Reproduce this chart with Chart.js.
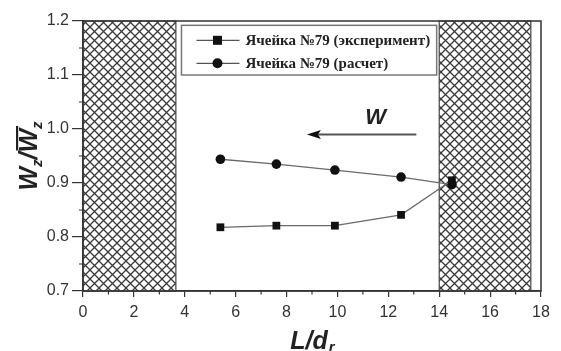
<!DOCTYPE html>
<html>
<head>
<meta charset="utf-8">
<script src="https://cdn.jsdelivr.net/npm/chart.js@4"></script>
<style>
  html, body { margin: 0; padding: 0; background: #fff; }
  #wrap { width: 561px; height: 351px; }
</style>
</head>
<body>
<div id="wrap"><canvas id="graf" width="561" height="351"></canvas></div>
<script>
// values
const lOverD = [5.4, 7.6, 9.9, 12.5, 14.5];
const experiment = [0.818, 0.821, 0.821, 0.841, 0.905];
const calculation = [0.944, 0.935, 0.924, 0.911, 0.897];
const seriesLabels = ["Ячейка №79 (эксперимент)", "Ячейка №79 (расчет)"];
const hatchZones = [[0, 3.65], [14, 17.6]];
const xTicks = [0, 2, 4, 6, 8, 10, 12, 14, 16, 18];
const yTicks = [0.7, 0.8, 0.9, 1.0, 1.1, 1.2];

const axisColor = "#333";
const sansFont = "'Liberation Sans', Arial, sans-serif";
const serifFont = "'Liberation Serif', 'Times New Roman', serif";

function makeHatch(ctx) {
  const p = 9;
  const c = document.createElement("canvas");
  c.width = p; c.height = p;
  const g = c.getContext("2d");
  g.fillStyle = "#fff";
  g.fillRect(0, 0, p, p);
  g.strokeStyle = "#3a3a3a";
  g.lineWidth = 1.3;
  g.beginPath();
  g.moveTo(-1, -1); g.lineTo(p + 1, p + 1);
  g.moveTo(-1, p + 1); g.lineTo(p + 1, -1);
  g.stroke();
  return ctx.createPattern(c, "repeat");
}

const decorations = {
  id: "decorations",
  beforeDatasetsDraw(chart) {
    const { ctx, chartArea: a, scales: { x, y } } = chart;
    ctx.save();
    const pat = makeHatch(ctx);
    hatchZones.forEach(([from, to]) => {
      const x0 = x.getPixelForValue(from), x1 = x.getPixelForValue(to);
      ctx.fillStyle = pat;
      ctx.fillRect(x0, a.top, x1 - x0, a.bottom - a.top);
      ctx.strokeStyle = "#444";
      ctx.lineWidth = 1.2;
      ctx.strokeRect(x0, a.top, x1 - x0, a.bottom - a.top);
    });
    ctx.restore();
  },
  afterDatasetsDraw(chart) {
    const { ctx, chartArea: a, scales: { x, y } } = chart;
    ctx.save();
    // frame
    ctx.strokeStyle = axisColor;
    ctx.lineWidth = 1.5;
    ctx.strokeRect(a.left, a.top, a.right - a.left, a.bottom - a.top);
    // minor ticks
    ctx.lineWidth = 1.2;
    ctx.beginPath();
    for (let v = 1; v < 18; v += 2) {
      const px = x.getPixelForValue(v);
      ctx.moveTo(px, a.bottom); ctx.lineTo(px, a.bottom + 3.5);
    }
    for (let v = 0.75; v < 1.2; v += 0.1) {
      const py = y.getPixelForValue(v);
      ctx.moveTo(a.left, py); ctx.lineTo(a.left - 4, py);
    }
    ctx.stroke();

    // legend box
    const lx = x.getPixelForValue(3.87), rx = x.getPixelForValue(13.9);
    const ty = y.getPixelForValue(1.192), by = y.getPixelForValue(1.1);
    ctx.fillStyle = "#fff";
    ctx.fillRect(lx, ty, rx - lx, by - ty);
    ctx.strokeStyle = "#777";
    ctx.lineWidth = 1.5;
    ctx.strokeRect(lx, ty, rx - lx, by - ty);
    chart.data.datasets.forEach((ds, i) => {
      const cy = ty + 15 + i * 23;
      const mx = lx + 36;
      ctx.strokeStyle = "#555";
      ctx.lineWidth = 1.3;
      ctx.beginPath();
      ctx.moveTo(lx + 15, cy); ctx.lineTo(lx + 58, cy);
      ctx.stroke();
      ctx.fillStyle = "#111";
      if (ds.pointStyle === "rect") {
        ctx.fillRect(mx - 4.5, cy - 4.5, 9, 9);
      } else {
        ctx.beginPath(); ctx.arc(mx, cy, 5, 0, Math.PI * 2); ctx.fill();
      }
      ctx.fillStyle = "#222";
      ctx.font = "bold 15px " + serifFont;
      ctx.textBaseline = "middle";
      ctx.textAlign = "left";
      ctx.fillText(ds.label, lx + 64, cy + 1);
    });

    // flow arrow
    const ax0 = x.getPixelForValue(13.1), ax1 = x.getPixelForValue(8.8);
    const ay = y.getPixelForValue(0.99);
    ctx.strokeStyle = "#555";
    ctx.lineWidth = 2;
    ctx.beginPath();
    ctx.moveTo(ax0, ay); ctx.lineTo(ax1 + 8, ay);
    ctx.stroke();
    ctx.fillStyle = "#111";
    ctx.beginPath();
    ctx.moveTo(ax1, ay);
    ctx.lineTo(ax1 + 14, ay - 4.5);
    ctx.lineTo(ax1 + 11, ay);
    ctx.lineTo(ax1 + 14, ay + 4.5);
    ctx.closePath();
    ctx.fill();
    ctx.fillStyle = "#222";
    ctx.font = "italic bold 22px " + sansFont;
    ctx.textAlign = "center";
    ctx.textBaseline = "middle";
    ctx.fillText("W", x.getPixelForValue(11.5), y.getPixelForValue(1.02));

    // x title  L/d_r
    const big = "italic bold 25px " + sansFont, small = "italic bold 15px " + sansFont;
    ctx.textBaseline = "alphabetic";
    ctx.textAlign = "left";
    ctx.font = big;
    const wMain = ctx.measureText("L/d").width;
    ctx.font = small;
    const wSub = ctx.measureText("r").width;
    let sx = (a.left + a.right) / 2 - (wMain + wSub) / 2;
    const base = 349;
    ctx.font = big;
    ctx.fillText("L/d", sx, base);
    ctx.font = small;
    ctx.fillText("r", sx + wMain + 1, base + 3);

    // y title  W_z / W̄_z
    ctx.save();
    ctx.translate(37, (a.top + a.bottom) / 2);
    ctx.rotate(-Math.PI / 2);
    const parts = [["W", big, 0], ["z", small, 5], ["/", big, 0], ["W", big, 0], ["z", small, 5]];
    let total = 0;
    parts.forEach(p => { ctx.font = p[1]; total += ctx.measureText(p[0]).width; });
    let cx = -total / 2;
    parts.forEach((p, i) => {
      ctx.font = p[1];
      const w = ctx.measureText(p[0]).width;
      ctx.fillText(p[0], cx, p[2]);
      if (i === 3) {
        ctx.fillRect(cx + 2, -21, w + 1, 2.2);
      }
      cx += w;
    });
    ctx.restore();
    ctx.restore();
  }
};

new Chart(document.getElementById("graf"), {
  type: "scatter",
  data: {
    datasets: [
      {
        label: seriesLabels[0],
        data: lOverD.map((v, i) => ({ x: v, y: experiment[i] })),
        showLine: true,
        borderColor: "#6a6a6a",
        borderWidth: 1.3,
        pointStyle: "rect",
        pointRadius: 5.5,
        pointBackgroundColor: "#111",
        pointBorderColor: "#111",
        pointBorderWidth: 0
      },
      {
        label: seriesLabels[1],
        data: lOverD.map((v, i) => ({ x: v, y: calculation[i] })),
        showLine: true,
        borderColor: "#6a6a6a",
        borderWidth: 1.3,
        pointStyle: "circle",
        pointRadius: 4.8,
        pointBackgroundColor: "#111",
        pointBorderColor: "#111",
        pointBorderWidth: 0
      }
    ]
  },
  options: {
    responsive: false,
    animation: false,
    layout: { padding: { top: 21, right: 20, left: 0, bottom: 0 } },
    plugins: { legend: { display: false }, tooltip: { enabled: false } },
    scales: {
      x: {
        type: "linear",
        min: xTicks[0],
        max: xTicks[xTicks.length - 1],
        afterBuildTicks: s => { s.ticks = xTicks.map(v => ({ value: v })); },
        afterFit: s => { s.height = 60; },
        border: { color: axisColor, width: 1.5 },
        grid: { drawOnChartArea: false, tickLength: 6, color: axisColor, lineWidth: 1.2 },
        ticks: { color: "#333", font: { family: sansFont, size: 16 }, padding: 6, maxRotation: 0 }
      },
      y: {
        min: yTicks[0],
        max: yTicks[yTicks.length - 1],
        afterBuildTicks: s => { s.ticks = yTicks.map(v => ({ value: v })); },
        afterFit: s => { s.width = 83; },
        border: { color: axisColor, width: 1.5 },
        grid: { drawOnChartArea: false, tickLength: 11, color: axisColor, lineWidth: 1.2 },
        ticks: { color: "#333", font: { family: sansFont, size: 16 }, padding: 3, callback: v => v.toFixed(1) }
      }
    }
  },
  plugins: [decorations]
});
</script>
</body>
</html>
